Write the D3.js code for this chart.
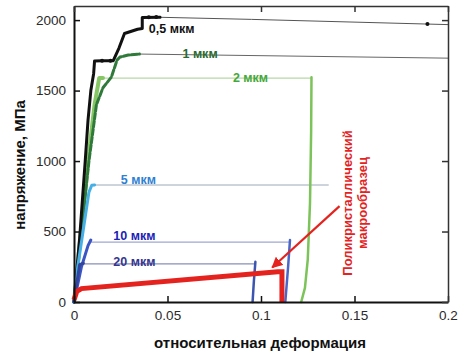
<!DOCTYPE html>
<html><head><meta charset="utf-8">
<script src="https://cdn.jsdelivr.net/npm/d3@7"></script>
<style>body{margin:0;background:#fff}svg{display:block}</style>
</head><body>
<svg id="c" width="463" height="355"></svg>
<script>
// ---- data ----
const xTicks = [0, 0.05, 0.1, 0.15, 0.2];
const xTickLabels = ["0", "0.05", "0.1", "0.15", "0.2"];
const yTicks = [0, 500, 1000, 1500, 2000];
const yTickLabels = ["0", "500", "1000", "1500", "2000"];

const s05Load = [[0,0],[0.003,450],[0.006,1000],[0.0075,1290],[0.009,1500],[0.0105,1620],[0.011,1710],[0.015,1712],[0.021,1712],[0.024,1800],[0.027,1905],[0.034,1935],[0.0365,1940],[0.0365,2018],[0.046,2020]];
const s05Tail = [[0.046,2020],[0.095,2005],[0.2,1968]];
const s05Dots = [[0.015,1712],[0.0195,1712],[0.04,2020],[0.044,2022],[0.189,1972]];

const s1Load = [[0,0],[0.008,1000],[0.012,1400],[0.0155,1520],[0.02,1596],[0.023,1716],[0.0246,1738],[0.029,1752],[0.035,1759]];
const s1Tail = [[0.035,1759],[0.2,1730]];

const s2Load = [[0,0],[0.0075,1000],[0.011,1400],[0.0135,1590],[0.0155,1590]];
const s2Plateau = [[0.0155,1588],[0.127,1588]];
const s2Unload = [[0.127,1595],[0.1268,1200],[0.1262,700],[0.125,300],[0.1235,100],[0.1215,0]];

const s5Load = [[0,0],[0.002,250],[0.008,780],[0.0095,828],[0.011,830]];
const s5Plateau = [[0.011,830],[0.136,830]];

const s10Load = [[0,0],[0.004,250],[0.0075,400],[0.009,440]];
const s10Plateau = [[0.009,425],[0.1155,425]];
const s10Unload = [[0.1155,440],[0.1145,250],[0.113,0]];

const s20Load = [[0,0],[0.003,265],[0.005,275]];
const s20Plateau = [[0.005,270],[0.097,270]];
const s20Unload = [[0.097,285],[0.0962,150],[0.0955,0]];

const macro = [[0,15],[0.0015,75],[0.004,95],[0.109,215],[0.1112,215],[0.1112,0]];

const seriesLabels = [
  {text:"0,5 мкм", x:0.04, y:1910, color:"#111"},
  {text:"1 мкм", x:0.058, y:1728, color:"#2a6a30"},
  {text:"2 мкм", x:0.085, y:1560, color:"#45a83a"},
  {text:"5 мкм", x:0.025, y:840, color:"#2f7fd2"},
  {text:"10 мкм", x:0.021, y:440, color:"#1b22b8"},
  {text:"20 мкм", x:0.021, y:258, color:"#35368f"}
];
const arrowFrom = [0.142, 680];
const arrowTo = [0.106, 245];
const annotLines = ["Поликристаллический", "макрообразец"];

// ---- chart ----
const svg = d3.select("#c");
const x = d3.scaleLinear().domain([0, 0.2]).range([74, 448]);
const y = d3.scaleLinear().domain([0, 2100]).range([302, 6]);
const line = d3.line().x(d => x(d[0])).y(d => y(d[1]));

function path(data, color, width, extra) {
  const p = svg.append("path").datum(data).attr("d", line)
    .attr("fill", "none").attr("stroke", color).attr("stroke-width", width)
    .attr("stroke-linejoin", "round").attr("stroke-linecap", "round");
  if (extra) extra(p);
  return p;
}

// thin plateau lines
path(s05Tail, "#555", 1);
path(s1Tail, "#666", 1);
path(s2Plateau, "#b8d8a8", 1.3);
path(s5Plateau, "#9aa8b8", 1);
path(s10Plateau, "#a0a8d0", 1.2);
path(s20Plateau, "#8890b8", 1.2);

// loading / unloading curves
path(s2Load, "#86c665", 4);
path(s2Unload, "#7cc35a", 2.5);
path(s1Load, "#2f7a3a", 3, p => p.attr("stroke-dasharray", "6,2"));
path(s05Load, "#111", 3);
svg.selectAll(".dot").data(s05Dots).enter().append("circle")
  .attr("cx", d => x(d[0])).attr("cy", d => y(d[1])).attr("r", 2).attr("fill", "#111");
path(s5Load, "#46b0e6", 3);
path(s10Load, "#3b56c4", 3);
path(s10Unload, "#4a66c8", 2.5);
path(s20Load, "#33449c", 3);
path(s20Unload, "#3b55b0", 2.5);
path(macro, "#e4231f", 5, p => p.attr("stroke-linecap", "butt").attr("stroke-linejoin", "miter"));

// axes
const fontTick = "Liberation Sans, Arial, sans-serif";
const gx = svg.append("g").attr("transform", "translate(0,302)")
  .call(d3.axisBottom(x).tickValues(xTicks).tickFormat((d,i) => xTickLabels[i]).tickSizeInner(-6).tickSizeOuter(0).tickPadding(8));
const gy = svg.append("g").attr("transform", "translate(74,0)")
  .call(d3.axisLeft(y).tickValues(yTicks).tickFormat((d,i) => yTickLabels[i]).tickSizeInner(-6).tickSizeOuter(0).tickPadding(8));
const gt = svg.append("g").attr("transform", "translate(0,6)")
  .call(d3.axisTop(x).tickValues(xTicks).tickFormat("").tickSizeInner(-6).tickSizeOuter(0));
const gr = svg.append("g").attr("transform", "translate(448,0)")
  .call(d3.axisRight(y).tickValues(yTicks).tickFormat("").tickSizeInner(-6).tickSizeOuter(0));
[gx, gy].forEach(g => {
  g.selectAll("text").attr("font-family", fontTick).attr("font-size", "13.5px").attr("fill", "#2a2a2a");
});
[gx, gy].forEach(g => { g.select(".domain").attr("stroke", "#111").attr("stroke-width", 2); g.selectAll(".tick line").attr("stroke", "#111").attr("stroke-width", 1.5); });
[gt, gr].forEach(g => { g.select(".domain").attr("stroke", "#333").attr("stroke-width", 1.5); g.selectAll(".tick line").attr("stroke", "#333").attr("stroke-width", 1.5); });

// series labels
svg.selectAll(".slab").data(seriesLabels).enter().append("text")
  .attr("x", d => x(d.x)).attr("y", d => y(d.y))
  .attr("font-family", fontTick).attr("font-weight", "bold").attr("font-size", "12.5px")
  .attr("fill", d => d.color).text(d => d.text);

// arrow
svg.append("defs").append("marker").attr("id", "ah").attr("viewBox", "0 0 10 10")
  .attr("refX", 9).attr("refY", 5).attr("markerWidth", 5).attr("markerHeight", 5)
  .attr("orient", "auto").attr("markerUnits", "strokeWidth")
  .append("path").attr("d", "M0,0L10,5L0,10z").attr("fill", "#e4231f");
svg.append("line").attr("x1", x(arrowFrom[0])).attr("y1", y(arrowFrom[1]))
  .attr("x2", x(arrowTo[0])).attr("y2", y(arrowTo[1]))
  .attr("stroke", "#e4231f").attr("stroke-width", 2.2).attr("marker-end", "url(#ah)");

// annotation text (rotated)
const annot = svg.append("text").attr("transform", "translate(352,203) rotate(-90)")
  .attr("text-anchor", "middle").attr("font-family", fontTick).attr("font-weight", "bold")
  .attr("font-size", "13px").attr("fill", "#e4231f");
annotLines.forEach((t, i) => annot.append("tspan").attr("x", 0).attr("dy", i === 0 ? 0 : "1.15em").text(t));

// axis titles
svg.append("text").attr("x", 260).attr("y", 348).attr("text-anchor", "middle")
  .attr("font-family", fontTick).attr("font-weight", "bold").attr("font-size", "15px").attr("fill", "#111")
  .text("относительная деформация");
svg.append("text").attr("transform", "translate(25,165) rotate(-90)").attr("text-anchor", "middle")
  .attr("font-family", fontTick).attr("font-weight", "bold").attr("font-size", "15px").attr("fill", "#111")
  .text("напряжение, МПа");
</script>
</body></html>
